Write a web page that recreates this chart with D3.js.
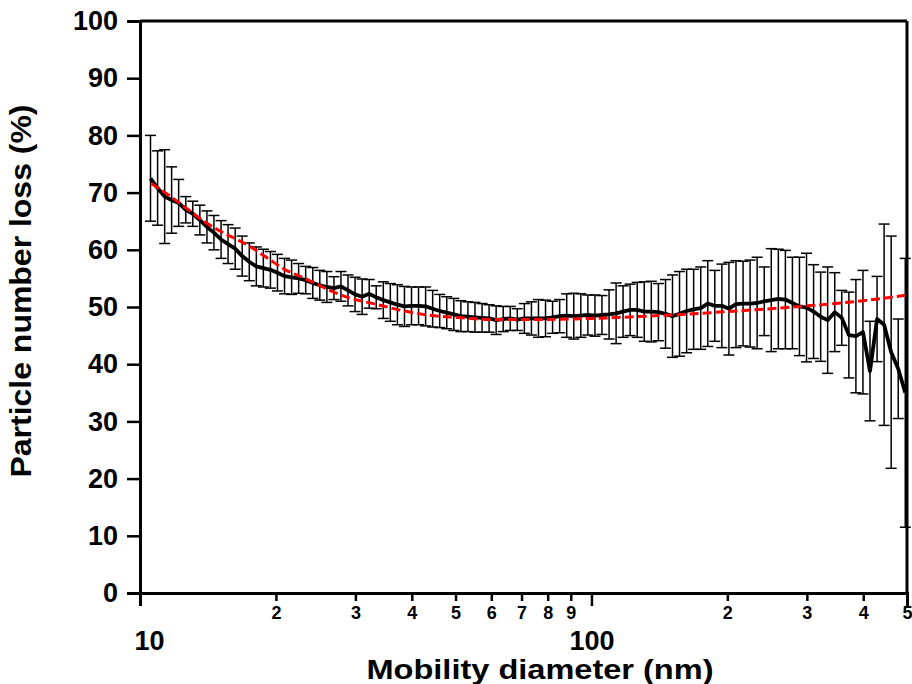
<!DOCTYPE html>
<html>
<head>
<meta charset="utf-8">
<script src="https://cdn.jsdelivr.net/npm/d3@7"></script>
<style>
  html, body { margin: 0; padding: 0; background: #fff; }
  svg { display: block; }
  text { font-family: "Liberation Sans", Arial, Helvetica, sans-serif; font-weight: bold; fill: #000; }
</style>
</head>
<body>
<svg id="chart" width="912" height="684"></svg>
<script>
// Mobility diameter bins (nm), 64 channels per decade
const diameters = [10.55, 10.94, 11.34, 11.75, 12.18, 12.63, 13.09, 13.57, 14.07, 14.58,
  15.12, 15.67, 16.25, 16.84, 17.46, 18.10, 18.76, 19.45, 20.16, 20.90,
  21.67, 22.46, 23.28, 24.14, 25.02, 25.94, 26.89, 27.87, 28.89, 29.95,
  31.05, 32.19, 33.36, 34.59, 35.85, 37.17, 38.53, 39.94, 41.40, 42.92,
  44.49, 46.12, 47.81, 49.56, 51.38, 53.26, 55.21, 57.24, 59.33, 61.50,
  63.76, 66.09, 68.51, 71.02, 73.63, 76.32, 79.12, 82.02, 85.03, 88.14,
  91.37, 94.72, 98.19, 101.8, 105.5, 109.4, 113.4, 117.5, 121.8, 126.3,
  130.9, 135.7, 140.7, 145.9, 151.2, 156.7, 162.5, 168.4, 174.6, 181.0,
  187.6, 194.5, 201.6, 209.0, 216.7, 224.6, 232.8, 241.4, 250.2, 259.4,
  268.9, 278.7, 288.9, 299.5, 310.5, 321.9, 333.6, 345.9, 358.5, 371.7,
  385.3, 399.4, 414.0, 429.2, 444.9, 461.2, 478.1, 495.6];

// Mean particle number loss (%)
const meanLoss = [72.5, 70.8, 69.3, 68.7, 68.2, 67.0, 66.3, 65.2, 64.0, 63.0,
  61.8, 61.0, 60.2, 58.9, 57.9, 57.1, 56.8, 56.5, 56.0, 55.4,
  55.2, 55.0, 54.7, 54.2, 53.8, 53.5, 53.3, 53.6, 52.9, 52.2,
  51.8, 52.3, 51.7, 51.2, 50.8, 50.4, 50.1, 50.2, 50.2, 50.1,
  49.7, 49.3, 49.0, 48.7, 48.4, 48.3, 48.2, 48.1, 48.0, 47.7,
  47.9, 48.0, 47.8, 48.0, 48.0, 48.0, 48.0, 48.2, 48.4, 48.5,
  48.4, 48.5, 48.6, 48.5, 48.6, 48.7, 48.9, 49.2, 49.5, 49.5,
  49.2, 49.2, 49.1, 48.8, 48.4, 48.8, 49.3, 49.6, 49.8, 50.6,
  50.2, 50.2, 49.7, 50.5, 50.6, 50.6, 50.7, 51.0, 51.2, 51.4,
  51.3, 50.7, 50.1, 49.9, 49.2, 48.3, 47.7, 49.1, 48.1, 45.1,
  44.9, 45.6, 38.8, 47.9, 46.9, 42.1, 39.2, 35.0];

// Standard deviation of the loss (%)
const sdLoss = [7.5, 6.5, 8.2, 5.8, 4.1, 2.3, 2.2, 2.6, 2.8, 3.0,
  3.3, 3.4, 3.6, 3.5, 3.3, 3.4, 3.3, 3.2, 3.2, 3.1,
  3.0, 2.6, 2.4, 2.7, 2.6, 2.7, 2.0, 2.6, 2.7, 3.0,
  3.1, 2.5, 2.0, 3.2, 3.3, 3.5, 3.5, 3.3, 3.3, 3.4,
  3.2, 2.9, 2.8, 2.8, 2.7, 2.6, 2.6, 2.5, 2.4, 2.5,
  2.2, 2.1, 1.9, 2.6, 2.9, 3.3, 3.2, 2.8, 2.9, 3.8,
  4.0, 3.8, 3.5, 3.6, 3.4, 4.3, 5.3, 4.5, 4.5, 4.8,
  5.2, 5.3, 5.0, 6.0, 7.2, 7.4, 7.3, 7.0, 7.2, 7.5,
  6.2, 7.3, 8.1, 7.6, 7.4, 7.6, 8.0, 6.0, 9.0, 8.7,
  8.6, 8.0, 8.6, 9.5, 8.2, 7.8, 9.3, 6.9, 4.8, 7.5,
  9.9, 10.8, 8.7, 7.45, 17.6, 20.3, 8.7, 23.5];

// Fitted loss curve (red dashed)
const fitDiameters = [10.6, 11.7, 12.8, 13.9, 15.1, 16.5, 18.0, 19.2, 21.0, 23.2,
  25.7, 28.5, 31.5, 34.9, 37.4, 43.5, 51.7, 61.3, 72.6, 100, 141, 175, 200, 290, 400, 500];
const fitLoss = [71.6, 69.3, 67.0, 64.9, 63.2, 61.7, 60.0, 58.5, 56.5, 55.0,
  53.3, 51.8, 50.9, 50.1, 49.5, 48.6, 48.1, 47.8, 47.8, 48.0, 48.5, 48.9, 49.2, 50.1, 51.1, 52.1];

// Axis ticks
const yTicks = [0, 10, 20, 30, 40, 50, 60, 70, 80, 90, 100];
const xMajorTicks = [10, 100];
const xMajorLabels = ["10", "100"];
const xMinorTicks = [20, 30, 40, 50, 60, 70, 80, 90, 200, 300, 400, 500];
const xMinorLabels = ["2", "3", "4", "5", "6", "7", "8", "9", "2", "3", "4", "5"];

const svg = d3.select("#chart");
const plot = { left: 140, right: 907, top: 21, bottom: 593 };

const x = d3.scaleLog().domain([10, 500]).range([plot.left, plot.right]);
const y = d3.scaleLinear().domain([0, 100]).range([plot.bottom, plot.top]);

const points = diameters.map((d, i) => ({ d, m: meanLoss[i], s: sdLoss[i] }));

// Error bars
const capHalf = 5.5;
const eb = svg.append("g").attr("stroke", "#000").attr("stroke-width", 1.5).attr("fill", "none");
points.forEach(p => {
  const px = x(p.d), y1 = y(p.m + p.s), y0 = y(p.m - p.s);
  eb.append("line").attr("x1", px).attr("x2", px).attr("y1", y1).attr("y2", y0);
  eb.append("line").attr("x1", px - capHalf).attr("x2", px + capHalf).attr("y1", y1).attr("y2", y1);
  eb.append("line").attr("x1", px - capHalf).attr("x2", px + capHalf).attr("y1", y0).attr("y2", y0);
});

// Mean line
svg.append("path")
  .datum(points)
  .attr("fill", "none")
  .attr("stroke", "#000")
  .attr("stroke-width", 3.8)
  .attr("stroke-linejoin", "round")
  .attr("d", d3.line().x(p => x(p.d)).y(p => y(p.m)));

// Fit curve
svg.append("path")
  .datum(fitDiameters.map((d, i) => [d, fitLoss[i]]))
  .attr("fill", "none")
  .attr("stroke", "#ff0000")
  .attr("stroke-width", 3)
  .attr("stroke-dasharray", "9,4")
  .attr("d", d3.line().curve(d3.curveMonotoneX).x(p => x(p[0])).y(p => y(p[1])));

// Y axis
const yAxis = svg.append("g")
  .attr("transform", `translate(${plot.left},0)`)
  .call(d3.axisLeft(y).tickValues(yTicks).tickSize(13).tickPadding(9).tickFormat(d3.format("d")));
yAxis.selectAll("text").style("font-size", "27px");

// X axis: major decades
const xMajor = svg.append("g")
  .attr("transform", `translate(0,${plot.bottom})`)
  .call(d3.axisBottom(x).tickValues(xMajorTicks).tickSize(13).tickPadding(25)
    .tickFormat((d, i) => xMajorLabels[i]));
xMajor.selectAll("text").style("font-size", "27px");
// the first decade label sits just inside the axis corner
xMajor.selectAll("text").filter(d => d === 10).attr("dx", 9);

// X axis: minor ticks
const xMinor = svg.append("g")
  .attr("transform", `translate(0,${plot.bottom})`)
  .call(d3.axisBottom(x).tickValues(xMinorTicks).tickSize(8).tickPadding(5)
    .tickFormat((d, i) => xMinorLabels[i]));
xMinor.selectAll("text").style("font-size", "18px");
xMinor.select(".domain").remove();

[yAxis, xMajor, xMinor].forEach(g => {
  g.select(".domain").attr("stroke-width", 3);
  g.selectAll(".tick line").attr("stroke-width", 2.5);
});

// Top and right frame edges
const frame = svg.append("g").attr("stroke", "#000").attr("stroke-width", 3);
frame.append("line")
  .attr("x1", plot.right).attr("x2", plot.right).attr("y1", plot.top).attr("y2", plot.bottom);
frame.append("line")
  .attr("x1", plot.left).attr("x2", plot.right).attr("y1", plot.top).attr("y2", plot.top);

// Axis titles
svg.append("text")
  .attr("x", 540).attr("y", 679)
  .attr("text-anchor", "middle")
  .attr("textLength", 347)
  .attr("lengthAdjust", "spacingAndGlyphs")
  .style("font-size", "28px")
  .text("Mobility diameter (nm)");

svg.append("text")
  .attr("transform", "translate(31,291) rotate(-90)")
  .attr("text-anchor", "middle")
  .attr("textLength", 373)
  .attr("lengthAdjust", "spacingAndGlyphs")
  .style("font-size", "29px")
  .text("Particle number loss (%)");
</script>
</body>
</html>
